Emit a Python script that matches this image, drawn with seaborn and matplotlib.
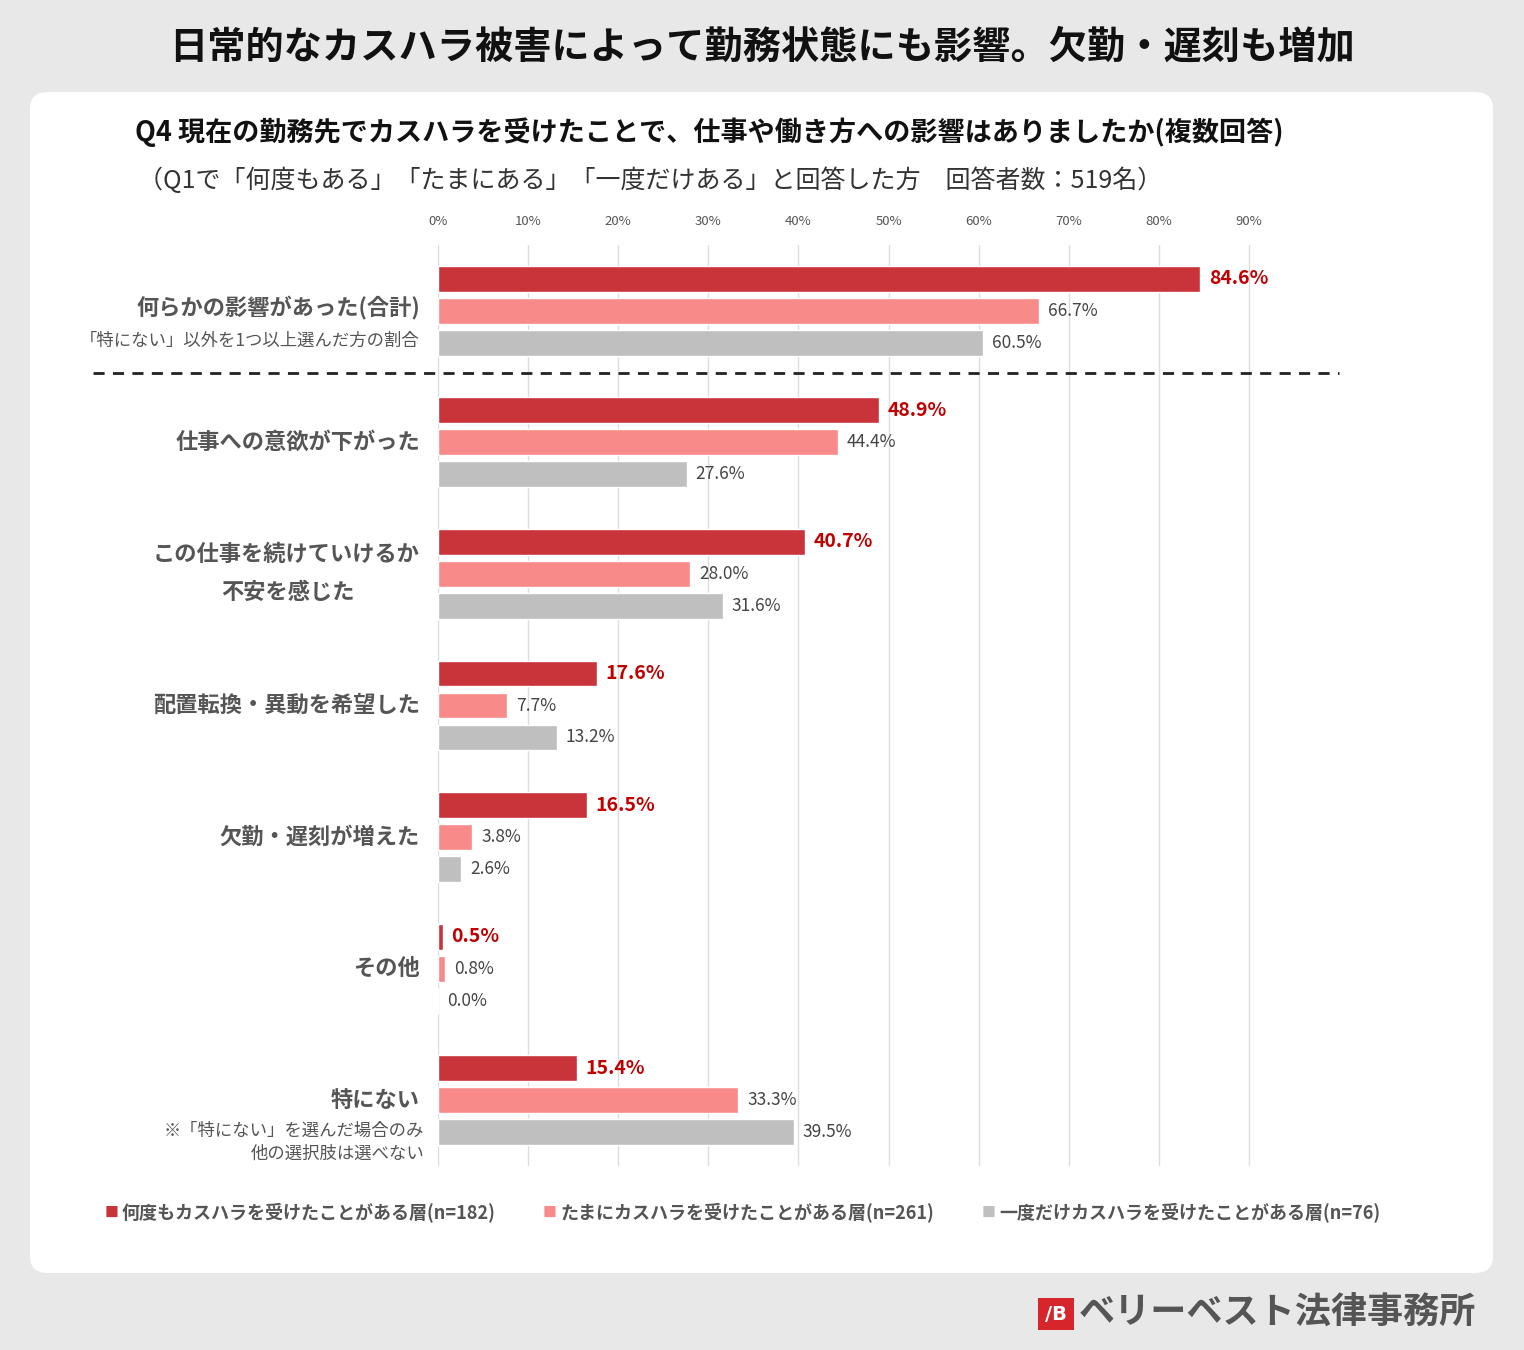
import pandas as pd
import seaborn as sns
import matplotlib.pyplot as plt
from matplotlib.patches import FancyBboxPatch, Rectangle
from matplotlib.lines import Line2D

categories = ["何らかの影響があった(合計)", "仕事への意欲が下がった", "この仕事を続けていけるか\n不安を感じた",
              "配置転換・異動を希望した", "欠勤・遅刻が増えた", "その他", "特にない"]
series = ["何度もカスハラを受けたことがある層(n=182)", "たまにカスハラを受けたことがある層(n=261)",
          "一度だけカスハラを受けたことがある層(n=76)"]
often = [84.6, 48.9, 40.7, 17.6, 16.5, 0.5, 15.4]
sometimes = [66.7, 44.4, 28.0, 7.7, 3.8, 0.8, 33.3]
once = [60.5, 27.6, 31.6, 13.2, 2.6, 0.0, 39.5]
colors = ["#C9343A", "#F98A8A", "#BFBFBF"]

rows = []
for vals, s in zip([often, sometimes, once], series):
    for c, v in zip(categories, vals):
        rows.append({"cat": c, "series": s, "val": v})
df = pd.DataFrame(rows)

sns.set_style("white")
plt.rcParams['font.family'] = ['Noto Sans CJK JP', 'DejaVu Sans']

W, H = 1524, 1350
fig = plt.figure(figsize=(15.24, 13.5), dpi=100, facecolor="#E8E8E8")
fig.add_artist(FancyBboxPatch((30 / W, 1 - 1273 / H), 1463 / W, 1181 / H,
                              boxstyle="round,pad=0,rounding_size=0.012",
                              transform=fig.transFigure, fc="white", ec="none", zorder=0))

ax = fig.add_axes([438 / W, 1 - 1166 / H, 901 / W, 921 / H])
ax.set_facecolor("none")
sns.barplot(data=df, y="cat", x="val", hue="series", palette=colors, orient="h", saturation=1,
            width=0.73, gap=0.19, ax=ax, legend=False, zorder=3)
ax.set_xlim(0, 100)
ax.set_ylim(6.5, -0.5)
for s in ax.spines.values():
    s.set_visible(False)
ax.set_xticks(range(0, 100, 10))
ax.set_xticklabels([f"{t}%" for t in range(0, 100, 10)], fontsize=9.5, color="#555555")
ax.xaxis.tick_top()
ax.tick_params(axis="x", length=0, pad=12)
ax.set_yticks([])
ax.set_xlabel("")
ax.set_ylabel("")
ax.grid(axis="x", color="#DDDDDD", lw=1, zorder=0)

for j, vals in enumerate([often, sometimes, once]):
    for i, v in enumerate(vals):
        y = i + (j - 1) * 0.243
        if j == 0:
            ax.text(v + 1, y, f"{v:.1f}%", va="center", fontsize=14, color="#C00000", fontweight="bold")
        else:
            ax.text(v + 1, y, f"{v:.1f}%", va="center", fontsize=12.5, color="#444444")

lab = dict(ha="right", va="center", fontsize=16, color="#555555", fontweight="bold")
sub = dict(ha="right", va="center", fontsize=12.5, color="#555555")
ax.text(-2, -0.02, "何らかの影響があった(合計)", **lab)
ax.text(-2, 0.23, "「特にない」以外を1つ以上選んだ方の割合", **sub)
ax.text(-2, 1, "仕事への意欲が下がった", **lab)
ax.text(-2, 1.85, "この仕事を続けていけるか", **lab)
ax.text(-16.7, 2.14, "不安を感じた", ha="center", va="center", fontsize=16, color="#555555", fontweight="bold")
ax.text(-2, 3, "配置転換・異動を希望した", **lab)
ax.text(-2, 4, "欠勤・遅刻が増えた", **lab)
ax.text(-2, 5, "その他", **lab)
ax.text(-2, 6.0, "特にない", **lab)
ax.text(-1.5, 6.23, "※「特にない」を選んだ場合のみ", **sub)
ax.text(-1.5, 6.41, "他の選択肢は選べない", **sub)

fig.add_artist(Line2D([93 / W, 1339 / W], [1 - 373 / H] * 2, transform=fig.transFigure,
                      color="#222222", lw=2, ls=(0, (4, 3))))

fig.text(0.5, 1 - 47 / H, "日常的なカスハラ被害によって勤務状態にも影響。欠勤・遅刻も増加",
         ha="center", va="center", fontsize=27.5, fontweight="bold", color="#111111")
fig.text(135 / W, 1 - 132 / H, "Q4 現在の勤務先でカスハラを受けたことで、仕事や働き方への影響はありましたか(複数回答)",
         ha="left", va="center", fontsize=19.5, fontweight="bold", color="#111111")
fig.text(138 / W, 1 - 181 / H, "（Q1で「何度もある」「たまにある」「一度だけある」と回答した方　回答者数：519名）",
         ha="left", va="center", fontsize=18, color="#333333")

for x, s, c in zip([105, 543, 982], series, colors):
    fig.text(x / W, 1 - 1213 / H, "■", ha="left", va="center", fontsize=10, color=c)
    fig.text((x + 17) / W, 1 - 1213 / H, s, ha="left", va="center", fontsize=13,
             fontweight="bold", color="#555555")

fig.add_artist(Rectangle((1038 / W, 1 - 1330 / H), 36 / W, 32 / H, transform=fig.transFigure,
                         fc="#D7262B", ec="none"))
fig.text(1056 / W, 1 - 1314 / H, "/B", ha="center", va="center", fontsize=14, fontweight="bold",
         color="white", family="DejaVu Sans")
fig.text(1476 / W, 1 - 1313 / H, "ベリーベスト法律事務所", ha="right", va="center",
         fontsize=26, fontweight="bold", color="#555555")

fig.savefig("out.png", dpi=100, facecolor=fig.get_facecolor())
